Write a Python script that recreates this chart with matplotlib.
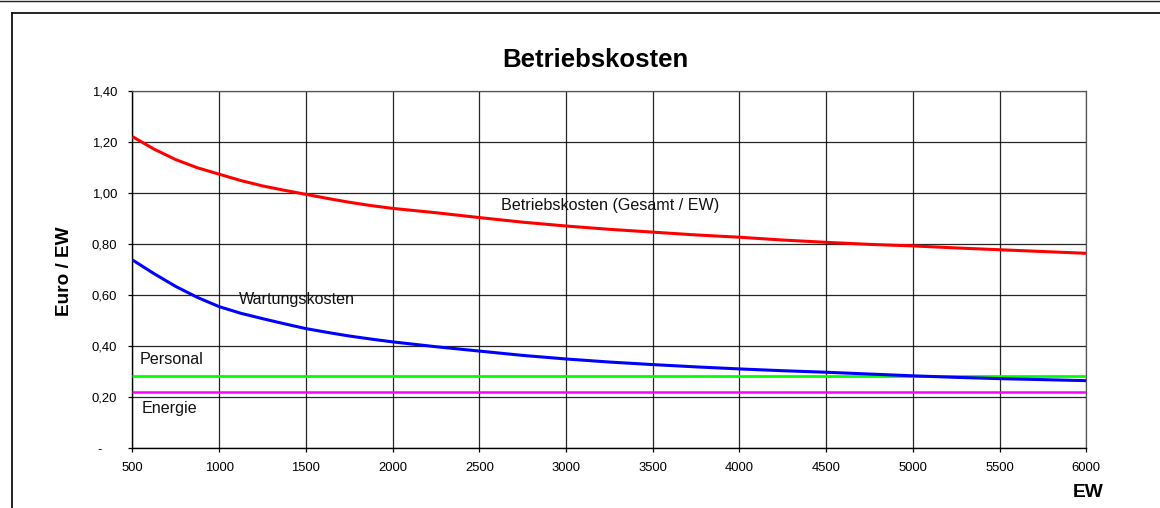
import matplotlib
matplotlib.use("Agg")
import matplotlib.pyplot as plt
from matplotlib.lines import Line2D
from matplotlib.ticker import FuncFormatter

plt.rcParams['font.family'] = ['Liberation Sans', 'DejaVu Sans']

# Einwohnerwerte (EW) und Kosten je EW in Euro
ew = [500, 625, 750, 875, 1000, 1125, 1250, 1375, 1500, 1625, 1750, 1875, 2000,
      2250, 2500, 2750, 3000, 3250, 3500, 3750, 4000, 4250, 4500, 4750, 5000,
      5250, 5500, 5750, 6000]
gesamt = [1.221, 1.172, 1.131, 1.099, 1.074, 1.049, 1.028, 1.011, 0.995, 0.979,
          0.964, 0.951, 0.940, 0.923, 0.904, 0.886, 0.871, 0.858, 0.847, 0.836,
          0.827, 0.816, 0.807, 0.799, 0.793, 0.785, 0.778, 0.771, 0.764]
wartung = [0.738, 0.684, 0.634, 0.591, 0.555, 0.529, 0.508, 0.488, 0.469, 0.454,
           0.440, 0.428, 0.417, 0.398, 0.381, 0.364, 0.350, 0.338, 0.328, 0.319,
           0.311, 0.304, 0.298, 0.291, 0.284, 0.278, 0.273, 0.269, 0.265]
personal = [0.285, 0.285]
energie = [0.22, 0.22]
ew_range = [500, 6000]

x_ticks = list(range(500, 6001, 500))
y_ticks = [0.0, 0.2, 0.4, 0.6, 0.8, 1.0, 1.2, 1.4]

fig = plt.figure(figsize=(11.6, 5.08), dpi=100)
ax = fig.add_axes([0.1142, 0.1175, 0.8223, 0.7034])

ax.plot(ew, gesamt, color='#FF0000', lw=2.2, solid_capstyle='butt', zorder=4)
ax.plot(ew, wartung, color='#0000FF', lw=2.2, solid_capstyle='butt', zorder=4)
ax.plot(ew_range, personal, color='#00FF00', lw=2.0, solid_capstyle='butt', zorder=3)
ax.plot(ew_range, energie, color='#FF00FF', lw=1.8, solid_capstyle='butt', zorder=3)

ax.set_xlim(500, 6000)
ax.set_ylim(0, 1.4)
ax.set_xticks(x_ticks)
ax.set_yticks(y_ticks)


def fmt_y(v, pos):
    if abs(v) < 1e-9:
        return "-    "
    return f"{v:.2f}".replace('.', ',')


ax.yaxis.set_major_formatter(FuncFormatter(fmt_y))
ax.grid(True, color='#000000', lw=0.9, alpha=0.85, zorder=1)
ax.set_axisbelow(True)
for side in ['left', 'bottom']:
    ax.spines[side].set_color('black')
    ax.spines[side].set_linewidth(1.0)
for side in ['top', 'right']:
    ax.spines[side].set_color('#555555')
    ax.spines[side].set_linewidth(0.9)

ax.tick_params(axis='both', direction='out', length=3, width=0.9, colors='black',
               labelsize=9.4)
ax.tick_params(axis='x', pad=6.5)
ax.tick_params(axis='y', pad=8)

# Beschriftungen der Kurven
lbl = dict(fontsize=11.6, color='#111111', ha='left', va='baseline')
ax.text(2623, 0.934, "Betriebskosten (Gesamt / EW)", **lbl)
ax.text(1116, 0.564, "Wartungskosten", **lbl)
ax.text(543, 0.329, "Personal", **lbl)
ax.text(553, 0.140, "Energie", **lbl)

fig.text(0.513, 0.8675, "Betriebskosten", fontsize=18.5, fontweight='bold',
         ha='center', va='baseline')
fig.text(0.0556, 0.4665, "Euro / EW", fontsize=13.7, fontweight='bold',
         rotation=90, ha='center', va='center')
fig.text(0.9378, 0.0211, "EW", fontsize=13.8, fontweight='bold',
         ha='center', va='baseline')

# Rahmen
W, H = 1160.0, 508.0
fig.add_artist(Line2D([0, 1], [1 - 0.5 / H, 1 - 0.5 / H], transform=fig.transFigure,
                      color='#222222', lw=1.0))
fig.add_artist(Line2D([11.5 / W, 1], [1 - 12.5 / H, 1 - 12.5 / H],
                      transform=fig.transFigure, color='#111111', lw=1.3))
fig.add_artist(Line2D([11.5 / W, 11.5 / W], [1 - 12.5 / H, 0],
                      transform=fig.transFigure, color='#111111', lw=1.3))

fig.savefig("out.png", dpi=100, facecolor='white')
